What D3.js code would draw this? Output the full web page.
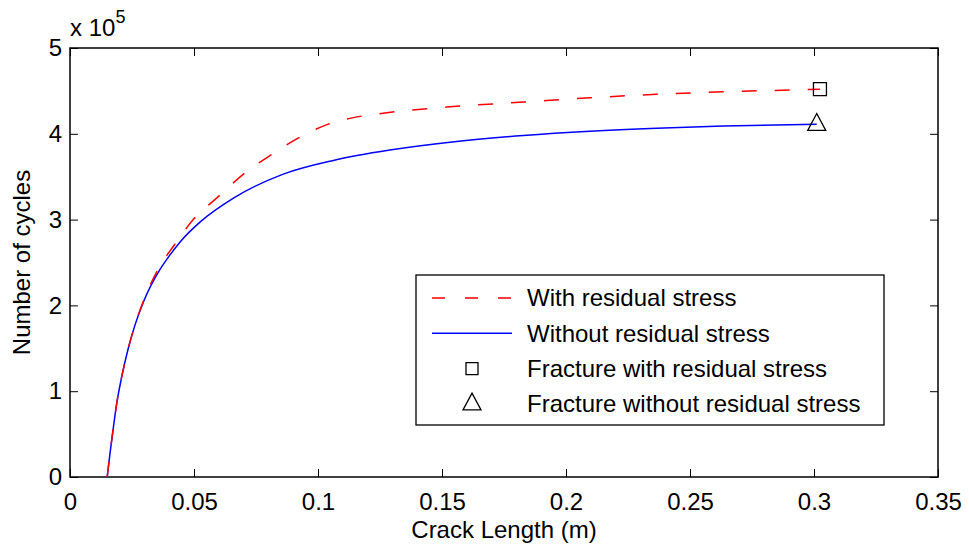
<!DOCTYPE html>
<html>
<head>
<meta charset="utf-8">
<script src="https://cdn.jsdelivr.net/npm/d3@7/dist/d3.min.js"></script>
<style>
  body { margin: 0; background: #fff; }
  svg text { font-family: "Liberation Sans", Arial, Helvetica, sans-serif; fill: #000; }
</style>
</head>
<body>
<svg id="chart"></svg>
<script>
// crack length (m) vs number of cycles
var lenWith = [0.0150, 0.0161, 0.0175, 0.0188, 0.0208, 0.0235, 0.0262, 0.0300, 0.0376, 0.0417, 0.0497,
               0.0591, 0.0712, 0.0820, 0.0914, 0.1021, 0.1129, 0.1263, 0.1559, 0.1828, 0.2097,
               0.2366, 0.2634, 0.2903, 0.3024];
var cyclesWith = [0, 27000, 58000, 85000, 116000, 150000, 177000, 208000, 252000, 269000, 300000,
                  325000, 356000, 377000, 394000, 409000, 418000, 424000, 432000, 437000, 442000,
                  446000, 449000, 451000, 452000];

var lenWithout = [0.0150, 0.0161, 0.0175, 0.0188, 0.0208, 0.0235, 0.0262, 0.0296, 0.0363, 0.0396, 0.0444,
                  0.0524, 0.0659, 0.0860, 0.1062, 0.1290, 0.1559, 0.1828, 0.2097, 0.2366, 0.2634, 0.3011];
var cyclesWithout = [0, 27000, 58000, 85000, 116000, 150000, 177000, 204000, 242000, 256000, 274000,
                     297000, 325000, 353000, 369000, 381000, 391000, 398000, 403000, 406500, 409000, 411000];

// fracture points
var fractureWith = [0.3024, 452000];
var fractureWithout = [0.3011, 411000];

var xTicks = [0, 0.05, 0.1, 0.15, 0.2, 0.25, 0.3, 0.35];
var xTickLabels = ['0', '0.05', '0.1', '0.15', '0.2', '0.25', '0.3', '0.35'];
var yTicks = [0, 100000, 200000, 300000, 400000, 500000];
var yTickLabels = ['0', '1', '2', '3', '4', '5'];

var legendLabels = ['With residual stress', 'Without residual stress',
                    'Fracture with residual stress', 'Fracture without residual stress'];

var svgWidth = 969,
	svgHeight = 549,
	margins = {top: 48, right: 31, bottom: 72, left: 70},
	width = svgWidth - margins.left - margins.right,
	height = svgHeight - margins.top - margins.bottom,
	font_size = 24,
	tick_len = 8;

var vis = d3.select('#chart')
	.attr('width', svgWidth)
	.attr('height', svgHeight);

var g = vis.append('g')
	.attr('transform', 'translate(' + margins.left + ',' + margins.top + ')');

var x = d3.scaleLinear().domain([0, 0.35]).range([0, width]);
var y = d3.scaleLinear().domain([0, 500000]).range([height, 0]);

function styleAxis(sel) {
	sel.select('.domain').remove();
	sel.selectAll('.tick line').attr('stroke', '#000').attr('stroke-width', 1);
	sel.selectAll('.tick text')
		.attr('font-size', font_size)
		.attr('font-family', '"Liberation Sans", Arial, Helvetica, sans-serif')
		.attr('fill', '#000');
}

// axes, ticks pointing inward on all four sides
g.append('g')
	.attr('transform', 'translate(0,' + height + ')')
	.call(d3.axisBottom(x).tickValues(xTicks).tickSize(-tick_len).tickPadding(16)
		.tickFormat(function(d, i) { return xTickLabels[i]; }))
	.call(styleAxis);

g.append('g')
	.call(d3.axisTop(x).tickValues(xTicks).tickSize(-tick_len).tickFormat(''))
	.call(styleAxis);

g.append('g')
	.call(d3.axisLeft(y).tickValues(yTicks).tickSize(-tick_len).tickPadding(8)
		.tickFormat(function(d, i) { return yTickLabels[i]; }))
	.call(styleAxis);

g.append('g')
	.attr('transform', 'translate(' + width + ',0)')
	.call(d3.axisRight(y).tickValues(yTicks).tickSize(-tick_len).tickFormat(''))
	.call(styleAxis);

g.append('rect')
	.attr('width', width)
	.attr('height', height)
	.attr('fill', 'none')
	.attr('stroke', '#000')
	.attr('stroke-width', 1.5);

// exponent above the y axis
var expo = g.append('text')
	.attr('x', 0)
	.attr('y', -12)
	.attr('font-size', font_size);
expo.append('tspan').text('x 10');
expo.append('tspan')
	.attr('font-size', 18)
	.attr('dy', -13)
	.text('5');

// axis labels
g.append('text')
	.attr('x', width / 2)
	.attr('y', height + 61)
	.attr('text-anchor', 'middle')
	.attr('font-size', font_size)
	.text('Crack Length (m)');

g.append('text')
	.attr('transform', 'translate(' + (-40) + ',' + (height / 2) + ') rotate(-90)')
	.attr('text-anchor', 'middle')
	.attr('font-size', font_size)
	.text('Number of cycles');

var line = d3.line()
	.x(function(d) { return x(d[0]); })
	.y(function(d) { return y(d[1]); })
	.curve(d3.curveMonotoneX);

var dataWith = d3.zip(lenWith, cyclesWith);
var dataWithout = d3.zip(lenWithout, cyclesWithout);

g.append('path')
	.datum(dataWithout)
	.attr('d', line)
	.attr('fill', 'none')
	.attr('stroke', '#0000ff')
	.attr('stroke-width', 1.5);

g.append('path')
	.datum(dataWith)
	.attr('d', line)
	.attr('fill', 'none')
	.attr('stroke', '#ff0000')
	.attr('stroke-width', 1.5)
	.attr('stroke-dasharray', '15,18');

function squarePath(cx, cy, s) {
	return 'M' + (cx - s / 2) + ',' + (cy - s / 2) + 'h' + s + 'v' + s + 'h' + (-s) + 'Z';
}
function trianglePath(cx, cy, w) {
	return 'M' + cx + ',' + (cy - w * 0.6) + 'L' + (cx + w / 2) + ',' + (cy + w / 3) +
		'L' + (cx - w / 2) + ',' + (cy + w / 3) + 'Z';
}

g.append('path')
	.attr('d', squarePath(x(fractureWith[0]), y(fractureWith[1]), 13))
	.attr('fill', 'none')
	.attr('stroke', '#000')
	.attr('stroke-width', 1.3);

g.append('path')
	.attr('d', trianglePath(x(fractureWithout[0]), y(fractureWithout[1]), 18))
	.attr('fill', 'none')
	.attr('stroke', '#000')
	.attr('stroke-width', 1.3);

// legend
var legend = vis.append('g')
	.attr('transform', 'translate(416,275)');

legend.append('rect')
	.attr('width', 468)
	.attr('height', 150)
	.attr('fill', '#fff')
	.attr('stroke', '#000')
	.attr('stroke-width', 1.3);

var rowY = function(i) { return 23 + i * 35.3; };

legend.append('line')
	.attr('x1', 16).attr('x2', 96)
	.attr('y1', rowY(0)).attr('y2', rowY(0))
	.attr('stroke', '#ff0000')
	.attr('stroke-width', 1.5)
	.attr('stroke-dasharray', '13,20');

legend.append('line')
	.attr('x1', 16).attr('x2', 96)
	.attr('y1', rowY(1)).attr('y2', rowY(1))
	.attr('stroke', '#0000ff')
	.attr('stroke-width', 1.5);

legend.append('path')
	.attr('d', squarePath(56, rowY(2), 12))
	.attr('fill', 'none')
	.attr('stroke', '#000')
	.attr('stroke-width', 1.3);

legend.append('path')
	.attr('d', trianglePath(56, rowY(3), 18))
	.attr('fill', 'none')
	.attr('stroke', '#000')
	.attr('stroke-width', 1.3);

legend.selectAll('text.lab')
	.data(legendLabels)
	.enter().append('text')
	.attr('class', 'lab')
	.attr('x', 111)
	.attr('y', function(d, i) { return rowY(i); })
	.attr('dy', '0.35em')
	.attr('font-size', font_size)
	.text(function(d) { return d; });
</script>
</body>
</html>
